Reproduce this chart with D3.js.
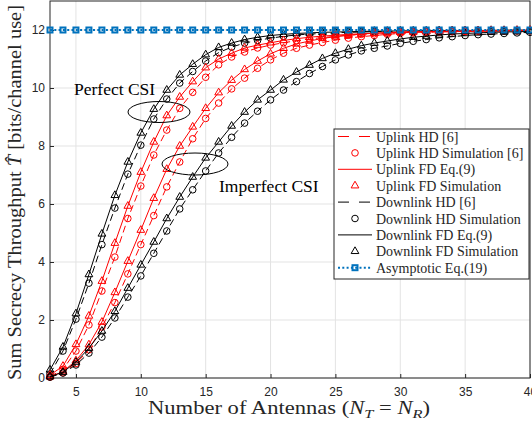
<!DOCTYPE html>
<html>
<head>
  <script src="https://d3js.org/d3.v7.min.js"></script>
  <style>
    body { margin: 0; background: #fff; }
    svg { display: block; }
    .tick text { font-family: "Liberation Sans", Arial, sans-serif; font-size: 12px; fill: #262626; }
    .serif { font-family: "Liberation Serif", "Times New Roman", serif; }
  </style>
</head>
<body>
<script>
// number of antennas (N_T = N_R)
var antennas = [3,4,5,6,7,8,9,10,11,12,13,14,15,16,17,18,19,20,21,22,
                23,24,25,26,27,28,29,30,31,32,33,34,35,36,37,38,39,40];

// perfect CSI
var dlFdPerfect = [0.28,1.07,2.22,3.57,4.97,6.3,7.45,8.45,9.27,9.93,10.45,10.82,11.15,11.4,11.55,11.67,11.75,11.81,11.85,11.88,
                   11.9,11.92,11.93,11.94,11.95,11.96,11.96,11.97,11.97,11.97,11.98,11.98,11.98,11.98,11.99,11.99,11.99,11.99];
var dlHdPerfect = [0.14,0.93,2.03,3.27,4.6,5.86,7.03,8.03,8.93,9.62,10.17,10.57,10.93,11.22,11.41,11.55,11.64,11.72,11.78,11.83,
                   11.86,11.88,11.9,11.92,11.93,11.94,11.95,11.96,11.96,11.97,11.97,11.97,11.98,11.98,11.98,11.99,11.99,11.99];
var ulFdPerfect = [0.1,0.41,1.16,2.14,3.34,4.65,5.93,7.1,8.14,9.05,9.69,10.22,10.7,11.0,11.2,11.38,11.48,11.56,11.64,11.7,
                   11.75,11.79,11.82,11.85,11.87,11.89,11.9,11.92,11.93,11.94,11.95,11.95,11.96,11.96,11.97,11.97,11.98,11.98];
var ulHdPerfect = [0.05,0.3,0.93,1.83,3.0,4.17,5.5,6.62,7.69,8.55,9.3,9.85,10.37,10.8,11.07,11.24,11.38,11.48,11.56,11.63,
                   11.69,11.74,11.78,11.82,11.85,11.87,11.89,11.9,11.92,11.93,11.94,11.95,11.95,11.96,11.96,11.97,11.97,11.98];

// imperfect CSI
var ulFdImperfect = [0.04,0.22,0.6,1.15,1.93,2.95,4.03,5.1,6.2,7.2,8.0,8.66,9.3,9.84,10.27,10.64,10.93,11.18,11.37,11.52,
                     11.62,11.71,11.77,11.82,11.86,11.89,11.91,11.93,11.94,11.95,11.96,11.97,11.97,11.98,11.98,11.98,11.99,11.99];
var ulHdImperfect = [0.03,0.18,0.5,0.97,1.76,2.6,3.59,4.6,5.6,6.59,7.45,8.25,8.95,9.48,9.97,10.34,10.68,10.97,11.2,11.37,
                     11.48,11.57,11.65,11.72,11.77,11.81,11.85,11.88,11.9,11.92,11.93,11.94,11.95,11.96,11.97,11.97,11.98,11.98];
var dlFdImperfect = [0.05,0.2,0.55,1.03,1.62,2.3,3.1,3.9,4.69,5.5,6.24,6.93,7.59,8.14,8.69,9.17,9.59,9.93,10.28,10.55,
                     10.79,11.02,11.2,11.34,11.46,11.55,11.62,11.69,11.75,11.79,11.83,11.86,11.88,11.9,11.92,11.93,11.94,11.95];
var dlHdImperfect = [0.03,0.17,0.45,0.86,1.41,2.07,2.79,3.52,4.3,5.07,5.83,6.49,7.14,7.76,8.3,8.79,9.2,9.59,9.93,10.22,
                     10.5,10.74,10.97,11.14,11.28,11.37,11.45,11.54,11.61,11.67,11.73,11.77,11.81,11.84,11.86,11.88,11.9,11.92];

// asymptote Eq.(19)
var asymptoticT = 12;

var xTicks = [5,10,15,20,25,30,35,40];
var yTicks = [0,2,4,6,8,10,12];

var legendLabels = ["Uplink HD [6]", "Uplink HD Simulation [6]", "Uplink FD Eq.(9)", "Uplink FD Simulation",
                    "Downlink HD [6]", "Downlink HD Simulation", "Downlink FD Eq.(9)", "Downlink FD Simulation",
                    "Asymptotic Eq.(19)"];

var width = 532, height = 425;
var plotLeft = 50, plotRight = 530, plotTop = 1, plotBottom = 378;

var svg = d3.select("body").append("svg")
  .attr("width", width).attr("height", height);

var x = d3.scaleLinear().domain([3, 40]).range([plotLeft, plotRight]);
var y = d3.scaleLinear().domain([0, 13]).range([plotBottom, plotTop]);

// grid
svg.append("g")
  .selectAll("line").data(xTicks).enter().append("line")
  .attr("x1", d => x(d)).attr("x2", d => x(d))
  .attr("y1", plotTop).attr("y2", plotBottom)
  .style("stroke", "#e3e3e3");
svg.append("g")
  .selectAll("line").data(yTicks).enter().append("line")
  .attr("x1", plotLeft).attr("x2", plotRight)
  .attr("y1", d => y(d)).attr("y2", d => y(d))
  .style("stroke", "#e3e3e3");

// axes
var xAxis = svg.append("g")
  .attr("transform", "translate(0," + plotBottom + ")")
  .call(d3.axisBottom(x).tickValues(xTicks).tickSize(-4).tickPadding(9).tickFormat(d3.format("d")));
var yAxis = svg.append("g")
  .attr("transform", "translate(" + plotLeft + ",0)")
  .call(d3.axisLeft(y).tickValues(yTicks).tickSize(-4).tickPadding(5).tickFormat(d3.format("d")));
[xAxis, yAxis].forEach(function(a){
  a.select(".domain").remove();
  a.selectAll(".tick line").style("stroke", "#262626");
});
// box
svg.append("rect")
  .attr("x", plotLeft).attr("y", plotTop)
  .attr("width", plotRight - plotLeft).attr("height", plotBottom - plotTop)
  .style("fill", "none").style("stroke", "#262626");

// curves
var line = d3.line().x((d, i) => x(antennas[i])).y(d => y(d));

var series = [
  {v: dlFdPerfect, color: "#000", dash: null, marker: "tri"},
  {v: dlHdPerfect, color: "#000", dash: "7,4", marker: "circ"},
  {v: ulFdPerfect, color: "#ff0000", dash: null, marker: "tri"},
  {v: ulHdPerfect, color: "#ff0000", dash: "7,4", marker: "circ"},
  {v: ulFdImperfect, color: "#ff0000", dash: null, marker: "tri"},
  {v: ulHdImperfect, color: "#ff0000", dash: "7,4", marker: "circ"},
  {v: dlFdImperfect, color: "#000", dash: null, marker: "tri"},
  {v: dlHdImperfect, color: "#000", dash: "7,4", marker: "circ"}
];

var plot = svg.append("g");
var triangle = d3.symbol().type(d3.symbolTriangle).size(26);

series.forEach(function(s){
  plot.append("path")
    .attr("d", line(s.v))
    .style("fill", "none")
    .style("stroke", s.color)
    .style("stroke-width", 1)
    .style("stroke-dasharray", s.dash);
  var g = plot.append("g");
  if (s.marker == "circ") {
    g.selectAll("circle").data(s.v).enter().append("circle")
      .attr("cx", (d, i) => x(antennas[i]))
      .attr("cy", d => y(d))
      .attr("r", 3.3)
      .style("fill", "none").style("stroke", s.color);
  } else {
    g.selectAll("path").data(s.v).enter().append("path")
      .attr("d", triangle)
      .attr("transform", (d, i) => "translate(" + x(antennas[i]) + "," + y(d) + ")")
      .style("fill", "none").style("stroke", s.color);
  }
});

// asymptote
plot.append("line")
  .attr("x1", x(3)).attr("x2", x(40))
  .attr("y1", y(asymptoticT)).attr("y2", y(asymptoticT))
  .style("stroke", "#0072bd").style("stroke-width", 2)
  .style("stroke-dasharray", "2,2.3");
plot.append("g").selectAll("rect").data(antennas).enter().append("rect")
  .attr("x", d => x(d) - 2.5).attr("y", y(asymptoticT) - 2.5)
  .attr("width", 5).attr("height", 5)
  .style("fill", "none").style("stroke", "#0072bd").style("stroke-width", 2);

// annotations
svg.append("text").attr("class", "serif")
  .attr("x", 74).attr("y", 95)
  .style("font-size", "17.5px")
  .text("Perfect CSI");
svg.append("ellipse")
  .attr("cx", 159).attr("cy", 112).attr("rx", 31).attr("ry", 10.5)
  .style("fill", "none").style("stroke", "#000");
svg.append("text").attr("class", "serif")
  .attr("x", 219).attr("y", 192)
  .style("font-size", "17.5px")
  .text("Imperfect CSI");
svg.append("ellipse")
  .attr("cx", 195).attr("cy", 164).attr("rx", 33).attr("ry", 11)
  .style("fill", "none").style("stroke", "#000");

// axis labels
var xl = svg.append("text").attr("class", "serif")
  .attr("x", 148).attr("y", 414)
  .style("font-size", "18px")
  .style("fill", "#262626");
xl.append("tspan").text("Number of Antennas (");
xl.append("tspan").style("font-style", "italic").text("N");
xl.append("tspan").attr("dy", 4).style("font-size", "13px").style("font-style", "italic").text("T");
xl.append("tspan").attr("dy", -4).text(" = ");
xl.append("tspan").style("font-style", "italic").text("N");
xl.append("tspan").attr("dy", 4).style("font-size", "13px").style("font-style", "italic").text("R");
xl.append("tspan").attr("dy", -4).text(")");
xl.attr("textLength", 282).attr("lengthAdjust", "spacingAndGlyphs");

var yl = svg.append("text").attr("class", "serif")
  .attr("transform", "translate(21,380) rotate(-90)")
  .style("font-size", "18px")
  .style("fill", "#262626");
yl.append("tspan").text("Sum Secrecy Throughput ");
yl.append("tspan").style("font-style", "italic").text("T\u0302");
yl.append("tspan").text(" [bits/channel use]");
yl.attr("textLength", 375).attr("lengthAdjust", "spacingAndGlyphs");

// legend
var lg = svg.append("g");
var lx = 334, ly = 129, lw = 195, lh = 150, rowH = 16.4;
lg.append("rect")
  .attr("x", lx).attr("y", ly).attr("width", lw).attr("height", lh)
  .style("fill", "#fff").style("stroke", "#262626");

var legendStyle = [
  {color: "#ff0000", dash: "11,10", marker: null},
  {color: "#ff0000", dash: null, line: false, marker: "circ"},
  {color: "#ff0000", dash: null, marker: null},
  {color: "#ff0000", dash: null, line: false, marker: "tri"},
  {color: "#000", dash: "11,10", marker: null},
  {color: "#000", dash: null, line: false, marker: "circ"},
  {color: "#000", dash: null, marker: null},
  {color: "#000", dash: null, line: false, marker: "tri"},
  {color: "#0072bd", dash: "2,2.3", marker: "sq", width: 2}
];

legendLabels.forEach(function(label, i){
  var cy = ly + 7.5 + rowH * i;
  var st = legendStyle[i];
  if (st.line !== false) {
    lg.append("line")
      .attr("x1", 338).attr("x2", 372).attr("y1", cy).attr("y2", cy)
      .style("stroke", st.color).style("stroke-width", st.width || 1)
      .style("stroke-dasharray", st.dash);
  }
  if (st.marker == "circ") {
    lg.append("circle").attr("cx", 355).attr("cy", cy).attr("r", 3.3)
      .style("fill", "none").style("stroke", st.color);
  } else if (st.marker == "tri") {
    lg.append("path").attr("d", triangle)
      .attr("transform", "translate(355," + cy + ")")
      .style("fill", "none").style("stroke", st.color);
  } else if (st.marker == "sq") {
    lg.append("rect").attr("x", 352.5).attr("y", cy - 2.5).attr("width", 5).attr("height", 5)
      .style("fill", "none").style("stroke", st.color).style("stroke-width", 2);
  }
  lg.append("text").attr("class", "serif")
    .attr("x", 376).attr("y", cy + 5)
    .style("font-size", "14px")
    .style("fill", "#262626")
    .text(label);
});
</script>
</body>
</html>
